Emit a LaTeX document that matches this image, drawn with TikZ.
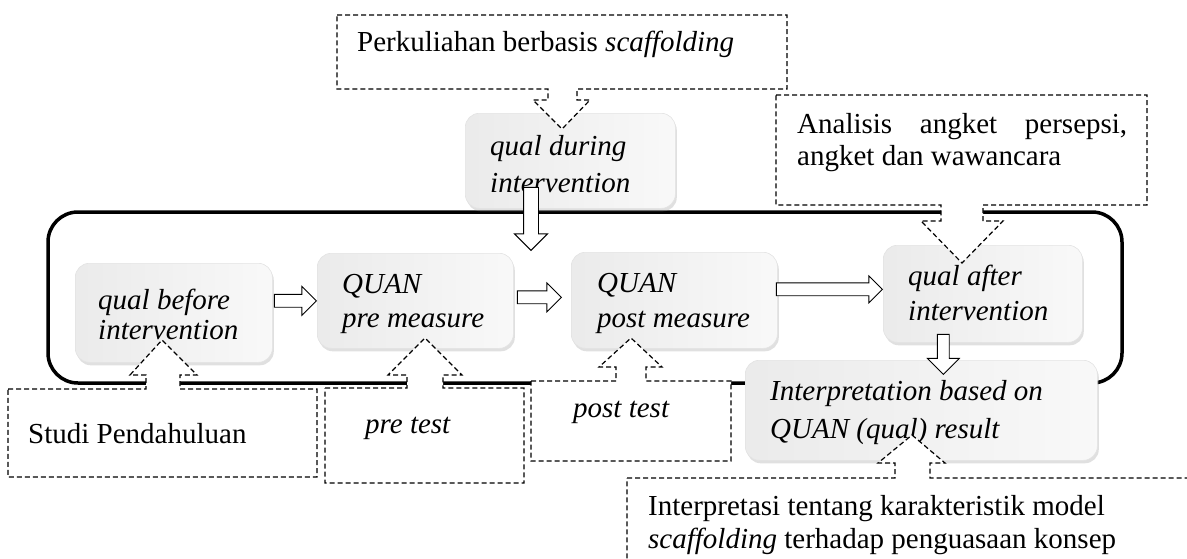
\documentclass[tikz,border=0pt]{standalone}
\usepackage{fontspec}
\setmainfont{Liberation Serif}
\usetikzlibrary{shapes.arrows,shadows,calc}
\newcommand\tlines[2]{\vtop{\hbox{#1}\hbox{#2}}}
\begin{document}
\begin{tikzpicture}[x=1pt,y=-1pt,
  every node/.style={inner sep=0pt},
  txt/.style={anchor=base west, font=\fontsize{29}{#1}\selectfont},
  txt/.default=34,
  itxt/.style={anchor=base west, font=\fontsize{29}{#1}\selectfont\itshape},
  itxt/.default=35,
  box/.style={anchor=north west, rounded corners=14pt, draw=gray!22, line width=0.6pt,
    left color=gray!16, middle color=white, right color=gray!5,
    drop shadow={shadow xshift=1.5pt, shadow yshift=-3pt, opacity=0.3, fill=gray!80}},
  callout/.style={draw=black, fill=white, line width=1.2pt, dash pattern=on 5pt off 3pt},
  frame/.style={line width=3.5pt, rounded corners=30pt},
  barrow/.style={single arrow, draw=black, fill=white, line width=0.9pt, inner sep=6pt,
    single arrow head extend=8pt, single arrow head indent=0pt, anchor=tip}
]
\useasboundingbox (0,0) rectangle (1187,558);

% big frame
\draw[frame] (48,212) rectangle (1122,383);

% boxes
\node[box, minimum width=210pt, minimum height=95pt] (qd) at (465,113) {};
\node[box, minimum width=197pt, minimum height=99pt] (qb) at (75,263) {};
\node[box, minimum width=196pt, minimum height=95pt] (pre) at (317,253) {};
\node[box, minimum width=206pt, minimum height=96pt] (post) at (571,252) {};
\node[box, minimum width=199pt, minimum height=97pt] (qa) at (883,245) {};
\node[box, minimum width=352pt, minimum height=100pt] (interp) at (745,360) {};

\node[itxt=37] (qdT) at (490,155) {\tlines{qual during}{intervention}};
\node[itxt=30] (qbT) at (98,309) {\tlines{qual before}{intervention}};
\node[itxt=34] (preT) at (342,293) {\tlines{QUAN}{pre measure}};
\node[itxt=35] (postT) at (597,292) {\tlines{QUAN}{post measure}};
\node[itxt=35] (qaT) at (908,285) {\tlines{qual after}{intervention}};
\node[itxt=38] (interpT) at (770,400) {\tlines{Interpretation based on}{QUAN (qual) result}};

% callouts
\draw[callout] (337,15) -- (787,15) -- (787,89) -- (577,89) -- (577,100) -- (590,100) -- (562,129)
  -- (533,100) -- (548,100) -- (548,89) -- (337,89) -- cycle;
\draw[callout] (776,95) -- (1147,95) -- (1147,205) -- (983,205) -- (983,221) -- (1003,221) -- (962,263)
  -- (921,221) -- (941,221) -- (941,205) -- (776,205) -- cycle;
\draw[callout] (8,389) -- (146,389) -- (146,375) -- (130,375) -- (162,340) -- (197,375) -- (180,375)
  -- (180,389) -- (317,389) -- (317,477) -- (8,477) -- cycle;
\draw[callout] (325,388) -- (407,388) -- (407,375) -- (388,375) -- (425,338) -- (462,375) -- (443,375)
  -- (443,388) -- (524,388) -- (524,483) -- (325,483) -- cycle;
\draw[callout] (531,381) -- (616,381) -- (616,367) -- (599,367) -- (631,338) -- (662,367) -- (646,367)
  -- (646,381) -- (731,381) -- (731,461) -- (531,461) -- cycle;
\draw[callout] (627,478) -- (895,478) -- (895,463) -- (878,463) -- (912,435) -- (945,463) -- (930,463)
  -- (930,478) -- (1200,478) -- (1200,600) -- (627,600) -- cycle;

\node[txt] (c1) at (357,51) {Perkuliahan berbasis \textit{scaffolding}};
\node[txt=32] (c2) at (797,133) {\vtop{\hbox to 330pt{Analisis\hfill angket\hfill persepsi,}\hbox{angket dan wawancara}}};
\node[txt] (c3) at (28,443) {Studi Pendahuluan};
\node[itxt] (c4) at (365,433) {pre test};
\node[itxt] (c5) at (573,417) {post test};
\node[txt=33] (c6) at (648,515) {\tlines{Interpretasi tentang karakteristik model}{\textit{scaffolding} terhadap penguasaan konsep}};

% block arrows
\coordinate (dt) at (531,251);
\node[barrow, minimum height=42pt] (a1) at (pre.west) {};
\node[barrow, minimum height=44pt] (a2) at ([xshift=-9pt,yshift=3pt]post.west) {};
\node[barrow, minimum height=106pt, single arrow head extend=7pt] (a3) at ([yshift=4.5pt]qa.west) {};
\node[barrow, shape border rotate=270, minimum height=63pt, inner sep=7pt, single arrow head extend=9pt] (a4) at (dt) {};
\node[barrow, shape border rotate=270, minimum height=40pt, inner sep=5.5pt, single arrow head extend=10pt] (a5) at ([xshift=22pt,yshift=-15pt]interp.north) {};
\end{tikzpicture}
\end{document}
